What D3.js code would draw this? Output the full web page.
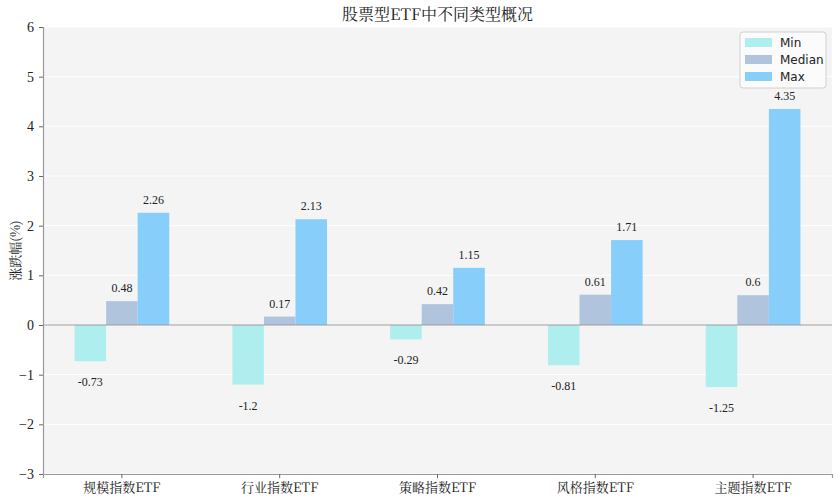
<!DOCTYPE html>
<html><head><meta charset="utf-8">
<script src="https://cdn.jsdelivr.net/npm/d3@7"></script>
<style>body{margin:0;background:#fff}</style>
</head><body>
<svg id="c" width="840" height="500"></svg>
<script>
const categories = ["规模指数ETF","行业指数ETF","策略指数ETF","风格指数ETF","主题指数ETF"];
const seriesNames = ["Min","Median","Max"];
const minVals = [-0.73,-1.2,-0.29,-0.81,-1.25];
const medianVals = [0.48,0.17,0.42,0.61,0.6];
const maxVals = [2.26,2.13,1.15,1.71,4.35];
const yTicks = [-3,-2,-1,0,1,2,3,4,5,6];
const colors = ["#AFEEEE","#B0C4DE","#87CEFA"];
const series = [minVals, medianVals, maxVals];

const svg = d3.select("#c");
const m = {l:43, r:832, t:27, b:474};
const serif = "'Liberation Serif','Noto Sans CJK SC',serif";
const cjk = "'Noto Serif CJK SC','Noto Sans CJK SC','Liberation Serif',serif";

const x = d3.scaleBand().domain(categories).range([m.l, m.r]).padding(0);
const y = d3.scaleLinear().domain([-3,6]).range([m.b, m.t]);
const bw = x.bandwidth()*0.2;

svg.append("rect").attr("x",m.l).attr("y",m.t).attr("width",m.r-m.l).attr("height",m.b-m.t).attr("fill","#f4f4f4");

// grid
svg.append("g").selectAll("line").data(yTicks).join("line")
  .attr("x1",m.l).attr("x2",m.r).attr("y1",d=>y(d)).attr("y2",d=>y(d))
  .attr("stroke","#ffffff").attr("stroke-width",1);

// bars
series.forEach((vals,si)=>{
  const g = svg.append("g");
  g.selectAll("rect").data(vals).join("rect")
    .attr("x",(d,i)=>x(categories[i])+x.bandwidth()/2+(si-1)*bw-bw/2)
    .attr("width",bw)
    .attr("y",d=>y(Math.max(0,d)))
    .attr("height",d=>Math.abs(y(d)-y(0)))
    .attr("fill",colors[si]);
  g.selectAll("text").data(vals).join("text")
    .attr("x",(d,i)=>x(categories[i])+x.bandwidth()/2+(si-1)*bw)
    .attr("y",d=> d>=0 ? y(d)-9 : y(d)+25)
    .attr("text-anchor","middle")
    .attr("font-family",serif).attr("font-size",12).attr("fill","#222")
    .text(d=>d);
});

// zero line
svg.append("line").attr("x1",m.l).attr("x2",m.r).attr("y1",y(0)).attr("y2",y(0))
  .attr("stroke","#999").attr("stroke-width",1.2);

// axes
const ya = svg.append("g").attr("transform",`translate(${m.l},0)`)
  .call(d3.axisLeft(y).tickValues(yTicks).tickSize(4).tickPadding(5).tickFormat(d3.format("d")));
ya.select(".domain").attr("stroke","#999").attr("stroke-width",1.2);
ya.selectAll(".tick line").attr("stroke","#666");
ya.selectAll("text").attr("font-family",serif).attr("font-size",14).attr("fill","#222");

const xa = svg.append("g").attr("transform",`translate(0,${m.b})`)
  .call(d3.axisBottom(x).tickSize(4).tickPadding(5));
xa.select(".domain").attr("stroke","#999").attr("stroke-width",1.2);
xa.selectAll(".tick line").attr("stroke","#666");
xa.selectAll("text").attr("font-family",cjk).attr("font-size",13).attr("fill","#222");

// title
svg.append("text").attr("x",(m.l+m.r)/2).attr("y",20).attr("text-anchor","middle")
  .attr("font-family",cjk).attr("font-size",16).attr("fill","#222").text("股票型ETF中不同类型概况");

// y label
svg.append("text").attr("transform",`translate(20,${(m.t+m.b)/2}) rotate(-90)`)
  .attr("text-anchor","middle").attr("font-family",cjk).attr("font-size",13).attr("fill","#222")
  .text("涨跌幅(%)");

// legend
const lg = svg.append("g").attr("transform","translate(740,32)");
lg.append("rect").attr("width",86).attr("height",56).attr("rx",3)
  .attr("fill","#fbfbfb").attr("stroke","#d0d0d0");
seriesNames.forEach((n,i)=>{
  lg.append("rect").attr("x",5).attr("y",6+i*17).attr("width",27).attr("height",9).attr("fill",colors[i]);
  lg.append("text").attr("x",40).attr("y",15+i*17).attr("font-family","'DejaVu Sans',sans-serif")
    .attr("font-size",12).attr("fill","#222").text(n);
});
</script>
</body></html>
